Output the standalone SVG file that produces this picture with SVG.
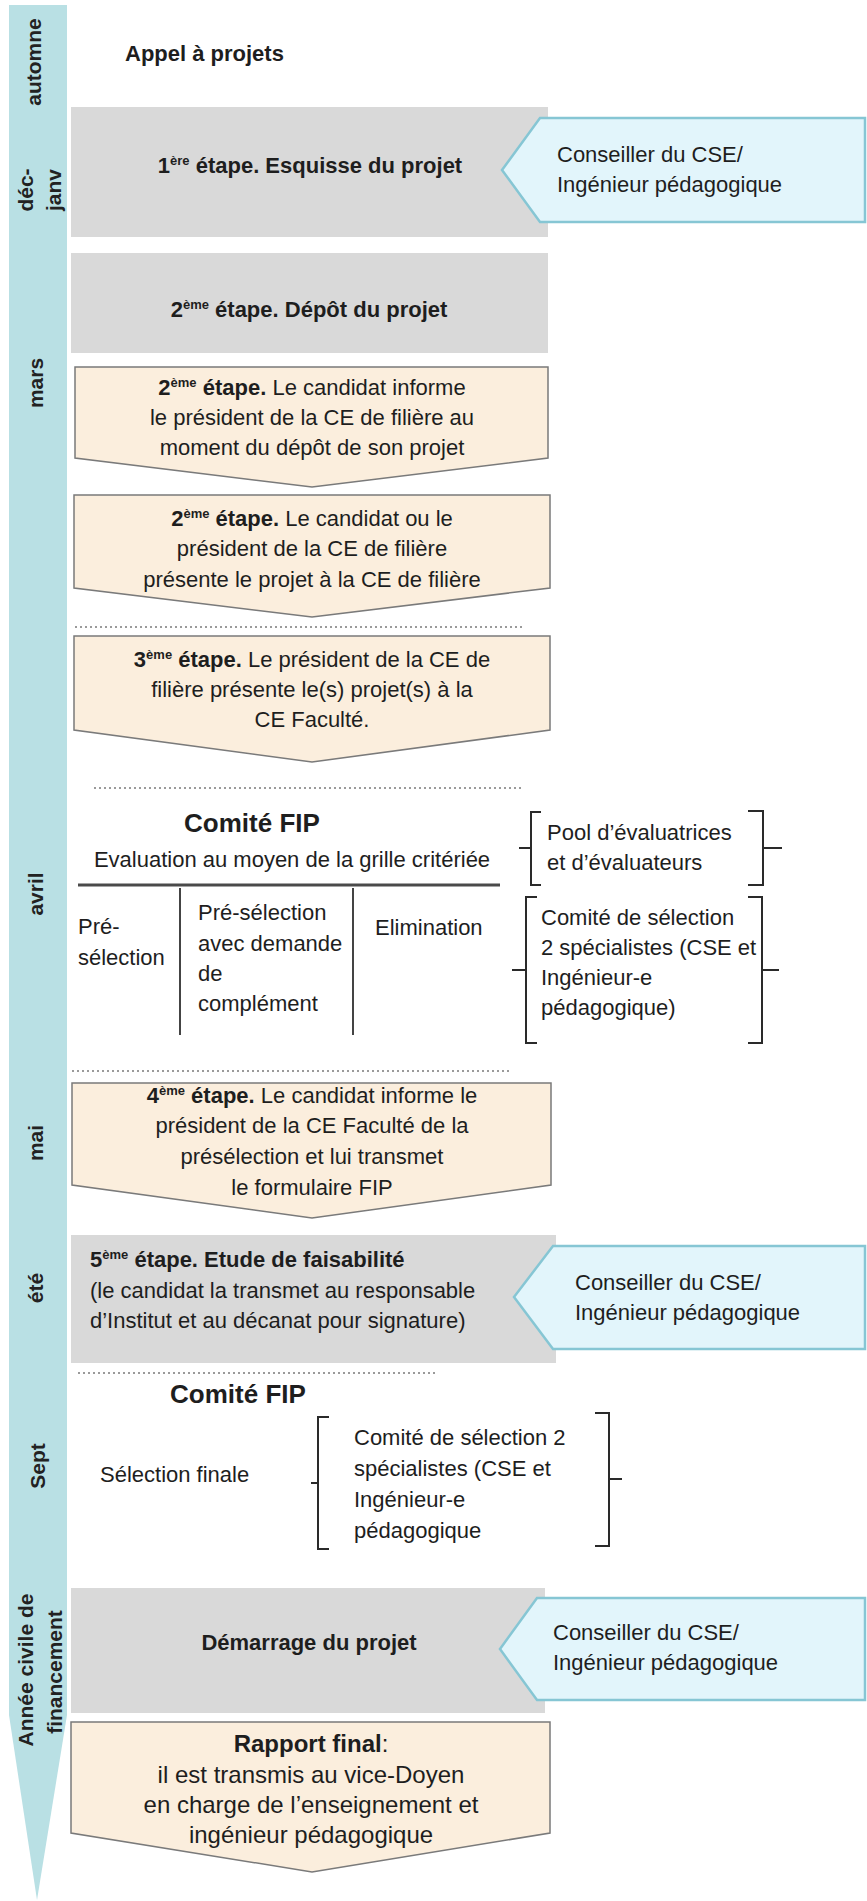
<svg xmlns="http://www.w3.org/2000/svg" width="867" height="1901" viewBox="0 0 867 1901">
<defs>
<style>
text{font-family:"Liberation Sans",Arial,sans-serif;font-size:22px;fill:#1e1e1e}
.b{font-weight:bold}
.m{text-anchor:middle}
.lab{font-weight:bold;font-size:21px;text-anchor:middle;fill:#222}
.sup{font-size:13px}
.gray{fill:#d9d9d9}
.beige{fill:#fbeedd;stroke:#7a7a7a;stroke-width:1.5}
.cons{fill:#e2f5fb;stroke:#86c6d4;stroke-width:2.5}
.dot{stroke:#9a9a9a;stroke-width:2;stroke-dasharray:2 3;fill:none}
.br{stroke:#2a2a2a;stroke-width:2;fill:none}
.ln{stroke:#444;stroke-width:2;fill:none}
</style>
</defs>
<rect width="867" height="1901" fill="#ffffff"/>

<g id="timeline">
<polygon points="9,5 67,5 67,1715 37,1900 9,1715" fill="#b9e0e4"/>
<text class="lab" transform="translate(41,62) rotate(-90)">automne</text>
<text class="lab" transform="translate(33,190) rotate(-90)">déc-</text>
<text class="lab" transform="translate(61,190) rotate(-90)">janv</text>
<text class="lab" transform="translate(43,383) rotate(-90)">mars</text>
<text class="lab" transform="translate(43,894) rotate(-90)">avril</text>
<text class="lab" transform="translate(43,1143) rotate(-90)">mai</text>
<text class="lab" transform="translate(43,1288) rotate(-90)">été</text>
<text class="lab" transform="translate(45,1466) rotate(-90)">Sept</text>
<text class="lab" transform="translate(33,1670) rotate(-90)">Année  civile de</text>
<text class="lab" transform="translate(62,1672) rotate(-90)">financement</text>
</g>

<g id="appel">
<text class="b" x="125" y="61">Appel à projets</text>
</g>

<g id="etape1">
<rect class="gray" x="71" y="107" width="477" height="130"/>
<text class="b m" x="310" y="173">1<tspan class="sup" dy="-8">ère</tspan><tspan dy="8"> étape. Esquisse du projet</tspan></text>
</g>
<g id="conseiller1">
<polygon class="cons" points="540,118 865,118 865,222 540,222 502,170"/>
<text x="557" y="162">Conseiller du CSE/</text>
<text x="557" y="192">Ingénieur pédagogique</text>
</g>

<g id="etape2-depot">
<rect class="gray" x="71" y="253" width="477" height="100"/>
<text class="b m" x="309" y="317">2<tspan class="sup" dy="-8">ème</tspan><tspan dy="8"> étape. Dépôt du projet</tspan></text>
</g>

<g id="etape2-informe">
<polygon class="beige" points="75,367 548,367 548,458 312,487 75,458"/>
<text class="m" x="312" y="395"><tspan class="b">2</tspan><tspan class="b sup" dy="-8">ème</tspan><tspan class="b" dy="8"> étape.</tspan> Le candidat informe</text>
<text class="m" x="312" y="425">le président de la CE de filière au</text>
<text class="m" x="312" y="455">moment du dépôt de son projet</text>
</g>

<g id="etape2-presente">
<polygon class="beige" points="74,495 550,495 550,588 312,617 74,588"/>
<text class="m" x="312" y="526"><tspan class="b">2</tspan><tspan class="b sup" dy="-8">ème</tspan><tspan class="b" dy="8"> étape.</tspan> Le candidat ou le</text>
<text class="m" x="312" y="556">président de la CE de filière</text>
<text class="m" x="312" y="587">présente le projet à la CE de filière</text>
</g>

<g id="etape3">
<polygon class="beige" points="74,636 550,636 550,730 312,762 74,730"/>
<text class="m" x="312" y="667"><tspan class="b">3</tspan><tspan class="b sup" dy="-8">ème</tspan><tspan class="b" dy="8"> étape.</tspan> Le président de la CE de</text>
<text class="m" x="312" y="697">filière présente le(s) projet(s) à la</text>
<text class="m" x="312" y="727">CE Faculté.</text>
</g>

<g id="comite-fip-avril">
<text class="b m" x="252" y="832" style="font-size:26px">Comité FIP</text>
<text class="m" x="292" y="867">Evaluation au moyen de la grille critériée</text>
<line x1="78" y1="885" x2="500" y2="885" stroke="#4a4a4a" stroke-width="3"/>
<line class="ln" x1="180" y1="888" x2="180" y2="1035"/>
<line class="ln" x1="353" y1="888" x2="353" y2="1035"/>
<text x="78" y="934">Pré-</text>
<text x="78" y="965">sélection</text>
<text x="198" y="920">Pré-sélection</text>
<text x="198" y="951">avec demande</text>
<text x="198" y="981">de</text>
<text x="198" y="1011">complément</text>
<text x="375" y="935">Elimination</text>
</g>

<g id="pool">
<text x="547" y="840">Pool d’évaluatrices</text>
<text x="547" y="870">et d’évaluateurs</text>
</g>

<g id="comite-selection-avril">
<text x="541" y="925">Comité de sélection</text>
<text x="541" y="955">2 spécialistes (CSE et</text>
<text x="541" y="985">Ingénieur-e</text>
<text x="541" y="1015">pédagogique)</text>
</g>

<g id="etape4">
<polygon class="beige" points="72,1083 551,1083 551,1185 312,1218 72,1185"/>
<text class="m" x="312" y="1103"><tspan class="b">4</tspan><tspan class="b sup" dy="-8">ème</tspan><tspan class="b" dy="8"> étape.</tspan> Le candidat informe le</text>
<text class="m" x="312" y="1133">président de la CE Faculté de la</text>
<text class="m" x="312" y="1164">présélection et lui transmet</text>
<text class="m" x="312" y="1195">le formulaire FIP</text>
</g>

<g id="etape5">
<rect class="gray" x="71" y="1235" width="485" height="128"/>
<text class="b" x="90" y="1267">5<tspan class="sup" dy="-8">ème</tspan><tspan dy="8"> étape. Etude de faisabilité</tspan></text>
<text x="90" y="1298">(le candidat la transmet au responsable</text>
<text x="90" y="1328">d’Institut et au décanat pour signature)</text>
</g>
<g id="conseiller2">
<polygon class="cons" points="553,1246 865,1246 865,1349 553,1349 514,1297"/>
<text x="575" y="1290">Conseiller du CSE/</text>
<text x="575" y="1320">Ingénieur pédagogique</text>
</g>

<g id="comite-fip-sept">
<text class="b m" x="238" y="1403" style="font-size:26px">Comité FIP</text>
<text x="100" y="1482">Sélection finale</text>
</g>
<g id="comite-selection-sept">
<text x="354" y="1445">Comité de sélection 2</text>
<text x="354" y="1476">spécialistes (CSE et</text>
<text x="354" y="1507">Ingénieur-e</text>
<text x="354" y="1538">pédagogique</text>
</g>

<g id="demarrage">
<rect class="gray" x="71" y="1588" width="474" height="125"/>
<text class="b m" x="309" y="1650">Démarrage du projet</text>
</g>
<g id="conseiller3">
<polygon class="cons" points="537,1598 865,1598 865,1700 537,1700 500,1649"/>
<text x="553" y="1640">Conseiller du CSE/</text>
<text x="553" y="1670">Ingénieur pédagogique</text>
</g>

<g id="rapport-final">
<polygon class="beige" points="71,1722 550,1722 550,1833 312,1872 71,1833"/>
<text class="m" x="311" y="1752" style="font-size:24px"><tspan class="b">Rapport final</tspan>:</text>
<text class="m" x="311" y="1783" style="font-size:24px">il est transmis au vice-Doyen</text>
<text class="m" x="311" y="1813" style="font-size:24px">en charge de l’enseignement et</text>
<text class="m" x="311" y="1843" style="font-size:24px">ingénieur pédagogique</text>
</g>

<g id="connectors">
<line class="dot" x1="75" y1="627" x2="522" y2="627"/>
<line class="dot" x1="94" y1="788" x2="522" y2="788"/>
<line class="dot" x1="72" y1="1071" x2="511" y2="1071"/>
<line class="dot" x1="78" y1="1373" x2="436" y2="1373"/>
<path class="br" d="M541,812 H531 V885 H541 M531,848 H519"/>
<path class="br" d="M748,811 H763 V885 H748 M763,848 H782"/>
<path class="br" d="M537,897 H526 V1043 H537 M526,970 H512"/>
<path class="br" d="M748,897 H762 V1043 H748 M762,970 H779"/>
<path class="br" d="M329,1417 H318 V1549 H329 M318,1483 H311"/>
<path class="br" d="M595,1413 H609 V1546 H595 M609,1479 H622"/>
</g>
</svg>
